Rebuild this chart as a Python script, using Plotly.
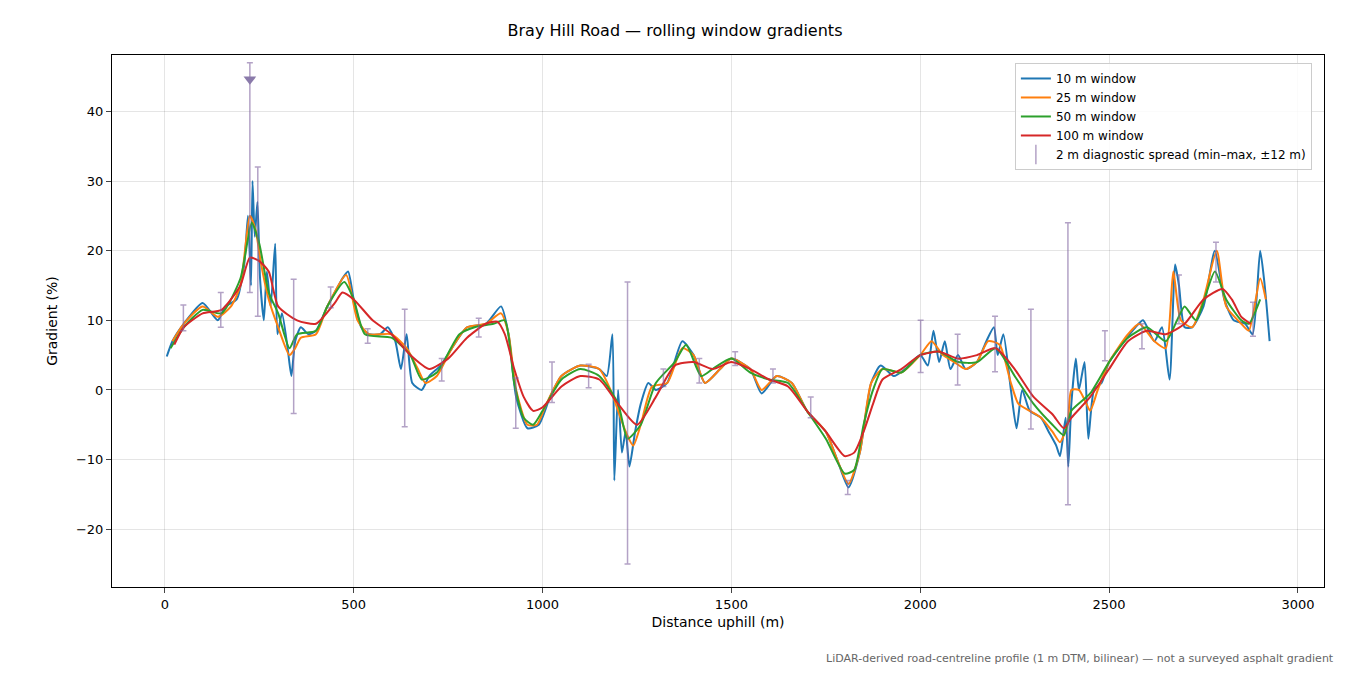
import plotly.graph_objects as go

x10 = [5,20,50,100,140,160,190,210,220,228,232,238,245,252,262,270,280,292,298,310,325,335,345,360,380,400,430,450,470,485,500,520,540,570,590,610,625,640,655,680,700,730,760,800,850,890,910,930,960,990,1020,1050,1100,1150,1170,1185,1190,1200,1210,1220,1230,1245,1260,1280,1300,1330,1370,1400,1430,1470,1500,1550,1580,1620,1660,1700,1750,1780,1810,1840,1870,1895,1930,1960,2000,2020,2035,2050,2065,2080,2100,2120,2150,2175,2195,2205,2220,2240,2255,2270,2290,2320,2340,2360,2370,2385,2392,2400,2412,2420,2435,2445,2460,2480,2500,2540,2570,2590,2620,2640,2660,2675,2685,2700,2720,2750,2780,2805,2830,2860,2880,2900,2912,2925]
g10 = [4.8,7,9.5,12.5,10,12,13,18,25,15,30,22,27,16,10,17,12,21,8,11,6,2,7,9,8,8.5,12,14,16,17,13,9,8,8,9,7,3,8,1,0,2,3.5,6,9,9.5,12,8,-1,-5.5,-5,-1,2,3.5,3,2,8,-13,0,-9,-6,-11,-6,-2,1,0,1,7,5,1,3,4.5,3,-0.5,2,1,-3,-6,-10,-14,-9,1,3.5,2,3,5,3.5,8.5,4,7,3,5,3,4,7,9,5,8,0,-5.5,0,-3,-4,-6,-8,-9.5,-4,-11,-2,4.5,0,4,-7,0,1,4,7,9,10,7,9,1.5,18,15,9,9,12,20,13,10,9.5,8,20,15,7]

x25 = [20,50,100,140,175,200,225,240,255,275,300,330,345,360,400,430,480,510,540,600,640,670,690,720,760,800,850,890,910,930,960,985,1010,1050,1100,1150,1180,1200,1220,1240,1260,1290,1330,1370,1400,1430,1470,1500,1550,1580,1620,1660,1700,1750,1780,1810,1840,1870,1900,1950,2000,2030,2060,2090,2120,2150,2180,2210,2240,2260,2290,2320,2350,2370,2390,2400,2420,2440,2450,2470,2500,2550,2580,2620,2650,2670,2690,2720,2750,2785,2810,2850,2870,2900,2915]
g25 = [7,9.5,12,10.5,12,15,25,23,18,13,9,5,6,7.5,8,12,16.5,10,8,8,6,3,1,2,6,9,9.5,11,8,0,-5,-5,-2,2,3.5,3,0,-3,-6,-8,-5,0.5,1,6,5,1,3,4.5,3,0,2,1,-3,-6,-10,-13.5,-9,1,3,2.5,5,7,5,4,3,4,7,6.5,1,-2,-3,-4,-6,-7.5,-5,0,0,-2,-3,0,4,8,9.5,7,6,17,10,9,13,20,12,9.5,8.5,16,13]

x50 = [15,50,100,150,200,230,250,275,300,330,350,400,430,475,500,530,600,650,680,720,780,820,870,900,925,950,975,1000,1050,1100,1150,1200,1225,1260,1300,1350,1380,1420,1450,1500,1550,1600,1650,1700,1750,1800,1825,1850,1875,1900,1950,2000,2050,2100,2150,2200,2250,2300,2350,2380,2400,2450,2500,2550,2600,2650,2680,2700,2730,2780,2810,2850,2870,2900]
g50 = [6,9,11.5,11,16,24,21,14,11,6,8,8.5,12,15.5,13,8,7.5,5,1.5,2.5,8,9,9.5,10,1,-4,-5,-3,1.5,3,2,-2,-7,-5,1,4,6.5,2,3,4.5,2.5,1.5,1,-3,-7,-12,-11.5,-5,0,3,2.5,5,5.5,4,4,6,2,-2,-5,-6.5,-3,-0.5,4,7.5,9,7,10,12,10,17,13,10,9.5,13]

x100 = [25,50,100,150,200,225,250,275,300,350,400,450,470,500,550,600,650,700,750,800,850,880,900,925,950,975,1000,1050,1100,1150,1200,1250,1300,1350,1400,1450,1500,1550,1600,1650,1700,1750,1800,1825,1850,1875,1900,1950,2000,2050,2100,2150,2200,2250,2300,2350,2380,2400,2450,2500,2550,2600,2650,2700,2750,2800,2825,2850,2875]
g100 = [6.5,9,11,11.5,15,19,18.5,17,12,10,9.5,12.5,14,13,10,8,5,3,4.5,7.5,9.5,9.8,8,3,-1,-3,-2.5,0.5,2,1.5,-2,-5,-1,3.5,4,3,4,3,1.5,0.5,-3,-6,-9.5,-9,-6,-2,1.5,3,5,5.5,4.5,5,6,3,-1,-3.5,-5.5,-4,-1,3,7,8.5,8,9.5,13,14.5,13,10.5,9.5]

diag_x = [49,148,225,246,341,439,537,635,733,831,929,1025,1122,1225,1320,1415,1510,1610,1710,1808,2001,2099,2198,2293,2391,2489,2587,2685,2783,2881]
diag_lo = [8.5,9,14,10.6,-3.4,11.8,6.7,-5.3,1.3,7.6,-5.5,-1.8,0.3,-25,0.5,1,3.5,1,-4,-15,2.5,0.7,2.6,-5.6,-16.5,4.2,5.9,9.5,15.5,7.7]
diag_hi = [12.2,14,47,32,15.9,14.8,8.8,11.6,4.5,10.3,1.7,4,3.7,15.5,3,4.5,5.5,3,-1,-13,10,8,10.6,11.6,24,8.5,9.5,16.5,21.2,12.6]
clip_x = [225]
clip_y = [44.6]

DIAG = "rgba(128,100,160,0.6)"
fig = go.Figure()
for xs, ys, name, col in [(x10, g10, "10 m window", "#1f77b4"), (x25, g25, "25 m window", "#ff7f0e"),
                          (x50, g50, "50 m window", "#2ca02c"), (x100, g100, "100 m window", "#d62728")]:
    fig.add_trace(go.Scatter(x=xs, y=ys, mode="lines", name=name, line=dict(color=col, width=2, shape="spline", smoothing=0.6)))

mid = [(a + b) / 2 for a, b in zip(diag_lo, diag_hi)]
half = [(b - a) / 2 for a, b in zip(diag_lo, diag_hi)]
fig.add_trace(go.Scatter(x=diag_x, y=mid, mode="markers", showlegend=False,
                         marker=dict(size=1, color="rgba(128,100,160,0)"),
                         error_y=dict(type="data", array=half, color=DIAG, thickness=1.5, width=3)))
fig.add_trace(go.Scatter(x=[None], y=[None], mode="markers", name="2 m diagnostic spread (min–max, ±12 m)",
                         marker=dict(symbol="line-ns-open", size=14, color=DIAG, line=dict(width=1.5, color=DIAG))))
fig.add_trace(go.Scatter(x=clip_x, y=clip_y, mode="markers", showlegend=False,
                         marker=dict(symbol="triangle-down", size=11, color="#8a7aaa")))

fig.update_layout(
    width=1334, height=659, paper_bgcolor="white", plot_bgcolor="white",
    font=dict(family="DejaVu Sans", size=13, color="black"),
    title=dict(text="Bray Hill Road — rolling window gradients", x=0.5, xanchor="center", y=0.975, font=dict(size=16)),
    margin=dict(l=104, r=18, t=47, b=80),
    xaxis=dict(range=[-140, 3069], title=dict(text="Distance uphill (m)", standoff=6, font=dict(size=14)), tickvals=[0,500,1000,1500,2000,2500,3000],
               showgrid=True, gridcolor="rgba(0,0,0,0.1)", showline=True, linecolor="black", mirror=True, ticks="outside", zeroline=False),
    yaxis=dict(range=[-28.3, 48.1], title=dict(text="Gradient (%)", font=dict(size=14)), tickvals=[-20,-10,0,10,20,30,40],
               ticktext=["−20","−10","0","10","20","30","40"],
               showgrid=True, gridcolor="rgba(0,0,0,0.1)", showline=True, linecolor="black", mirror=True, ticks="outside", zeroline=False),
    legend=dict(x=0.99, y=0.985, xanchor="right", yanchor="top", bordercolor="#cccccc", borderwidth=1,
                bgcolor="rgba(255,255,255,0.85)", font=dict(size=12)),
    annotations=[dict(text="LiDAR-derived road-centreline profile (1 m DTM, bilinear) — not a surveyed asphalt gradient",
                      xref="paper", yref="paper", x=1.01, y=-0.118, xanchor="right", yanchor="top", showarrow=False,
                      font=dict(size=11, color="#666666"))],
)
fig.write_html("out.html")
